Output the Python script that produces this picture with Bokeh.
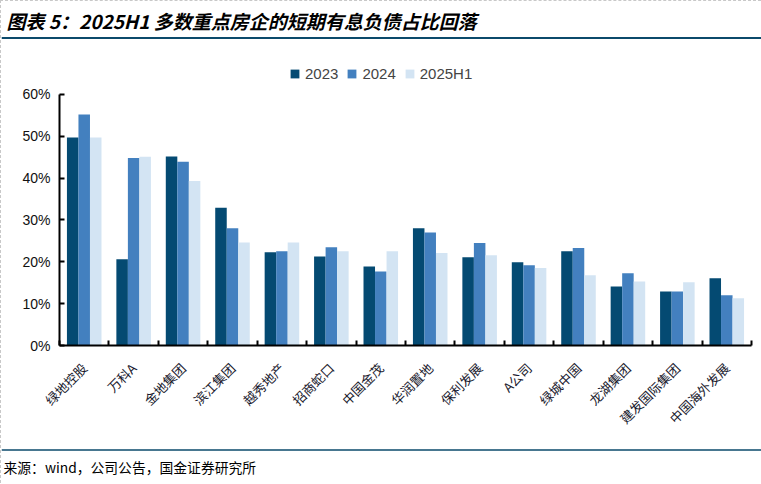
import math
from bokeh.plotting import figure
from bokeh.layouts import column
from bokeh.models import (FactorRange, Range1d, LinearAxis, FixedTicker, CustomJSTickFormatter,
                          NumeralTickFormatter, Label, Legend, LegendItem, Span,
                          ColumnDataSource)
from bokeh.transform import dodge
from bokeh.embed import file_html
from bokeh.resources import INLINE

# ---- data ----
companies = ["绿地控股", "万科A", "金地集团", "滨江集团", "越秀地产", "招商蛇口", "中国金茂",
             "华润置地", "保利发展", "A公司", "绿城中国", "龙湖集团", "建发国际集团", "中国海外发展"]
share_2023 = [49.7, 20.6, 45.2, 32.9, 22.3, 21.3, 18.9, 28.0, 21.1, 19.9, 22.5, 14.1, 12.9, 16.1]
share_2024 = [55.2, 44.8, 43.9, 28.0, 22.5, 23.5, 17.7, 27.0, 24.5, 19.2, 23.3, 17.3, 12.9, 12.0]
share_2025h1 = [49.7, 45.1, 39.3, 24.6, 24.6, 22.5, 22.5, 22.1, 21.6, 18.5, 16.8, 15.3, 15.1, 11.3]
series_names = ["2023", "2024", "2025H1"]
y_ticks = [0, 0.1, 0.2, 0.3, 0.4, 0.5, 0.6]

title_text = "图表 5：2025H1 多数重点房企的短期有息负债占比回落"
source_text = "来源：wind，公司公告，国金证券研究所"

colors = ["#044a72", "#4380bf", "#d3e4f3"]
navy = "#0b4a6b"

src = ColumnDataSource(dict(
    company=companies,
    s2023=[v / 100 for v in share_2023],
    s2024=[v / 100 for v in share_2024],
    s2025=[v / 100 for v in share_2025h1],
))

W = 760


def bare(fig):
    fig.outline_line_color = None
    fig.background_fill_color = "white"
    fig.border_fill_color = "white"
    fig.xgrid.visible = False
    fig.ygrid.visible = False
    if "frame_align" in fig.properties():
        fig.frame_align = False
    return fig


# ---- header: title + rule ----
head = bare(figure(width=W, height=43, x_range=Range1d(1, W + 1), y_range=Range1d(44, 1),
                   x_axis_location=None, y_axis_location=None, min_border=0,
                   output_backend="svg", toolbar_location=None))
head.add_layout(Label(x=6, y=20, text=title_text, text_font="Noto Sans CJK SC",
                      text_font_style="bold italic", text_font_size="19px",
                      text_color="black", text_baseline="middle"))
head.add_layout(Span(location=37.5, dimension="width", line_color=navy, line_width=2))

# ---- main chart ----
MAIN_H = 398
p = bare(figure(width=W, height=MAIN_H, x_range=FactorRange(*companies, range_padding=0),
                y_range=Range1d(0, 0.7195), output_backend="svg", toolbar_location=None,
                x_axis_location=None, min_border_left=58, min_border_right=10,
                min_border_top=0, min_border_bottom=97))

bw = 0.233
r1 = p.vbar(x=dodge("company", -bw, range=p.x_range), top="s2023", width=bw, source=src,
            fill_color=colors[0], line_color=None)
r2 = p.vbar(x=dodge("company", 0, range=p.x_range), top="s2024", width=bw, source=src,
            fill_color=colors[1], line_color=None)
r3 = p.vbar(x=dodge("company", bw, range=p.x_range), top="s2025", width=bw, source=src,
            fill_color=colors[2], line_color=None)

ya = p.yaxis[0]
ya.bounds = (0, 0.6)
ya.ticker = FixedTicker(ticks=y_ticks)
ya.formatter = NumeralTickFormatter(format="0%")
ya.major_tick_in = 5
ya.major_tick_out = 0
ya.minor_tick_line_color = None
ya.axis_line_width = 2
ya.major_tick_line_width = 2
ya.axis_line_color = "black"
ya.major_tick_line_color = "black"
ya.major_label_text_font = "Liberation Sans"
ya.major_label_text_font_size = "14px"
ya.major_label_text_color = "#111111"
ya.major_label_standoff = 9

# x axis: labels at category centres, small ticks on category boundaries
n = len(companies)
xa = LinearAxis(ticker=FixedTicker(ticks=[i + 0.5 for i in range(n)],
                                   minor_ticks=list(range(n + 1))),
                formatter=CustomJSTickFormatter(args=dict(names=companies),
                                                code="return names[Math.round(tick - 0.5)]"))
xa.axis_line_width = 2
xa.axis_line_color = "black"
xa.major_tick_line_color = None
xa.minor_tick_line_color = "black"
xa.minor_tick_line_width = 2
xa.minor_tick_in = 5
xa.minor_tick_out = 0
xa.major_label_orientation = math.pi / 4
xa.major_label_text_font = "Noto Sans CJK SC"
xa.major_label_text_font_size = "13px"
xa.major_label_text_color = "#1a1a2e"
xa.major_label_standoff = 14
p.add_layout(xa, "below")

legend = Legend(items=[LegendItem(label=series_names[0], renderers=[r1]),
                       LegendItem(label=series_names[1], renderers=[r2]),
                       LegendItem(label=series_names[2], renderers=[r3])],
                orientation="horizontal", location=(230, 263),
                glyph_width=11, glyph_height=11, label_standoff=5, spacing=8,
                label_text_font="Liberation Sans", label_text_font_size="15px",
                label_height=14, padding=0, margin=0,
                border_line_color=None, background_fill_alpha=0)
p.add_layout(legend, "center")

# ---- footer: rule + source ----
foot = bare(figure(width=W, height=41, x_range=Range1d(1, W + 1), y_range=Range1d(483, 442),
                   x_axis_location=None, y_axis_location=None, min_border=0,
                   output_backend="svg", toolbar_location=None))
foot.add_layout(Span(location=449.5, dimension="width", line_color=navy, line_width=1.5))
foot.add_layout(Label(x=3, y=466.5, text=source_text, text_font="Noto Sans CJK SC",
                      text_font_size="13.8px", text_color="black",
                      text_baseline="middle"))

page = column(head, p, foot, spacing=0,
              styles={"border-left": "1px dashed #c8c8c8", "border-top": "1px dashed #c8c8c8"})

open("out.html", "w").write(file_html(page, INLINE))
